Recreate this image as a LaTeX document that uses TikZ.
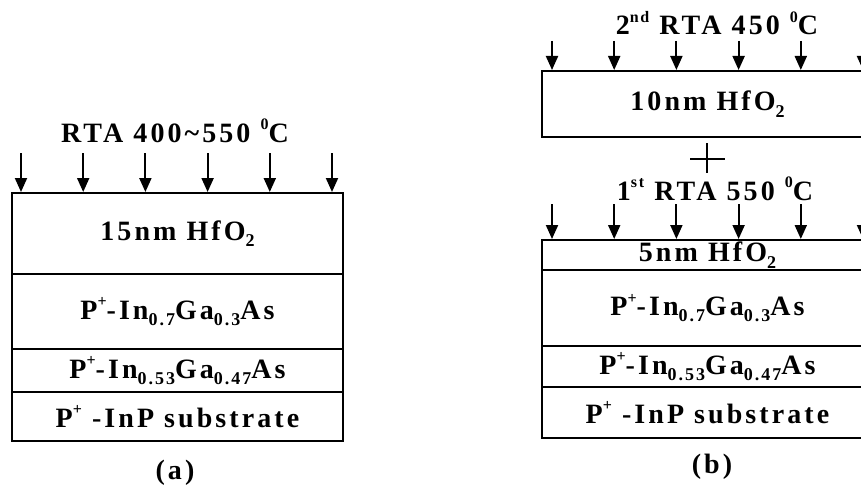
\documentclass[tikz,border=0pt]{standalone}
\usepackage{fontspec}
\setmainfont{Liberation Serif}[LetterSpace=11]
\usetikzlibrary{arrows.meta}
\newcommand{\lsub}[1]{\raisebox{-0.22em}{\fontsize{18}{18}\selectfont #1}}
\newcommand{\lsup}[1]{\raisebox{0.45em}{\fontsize{16}{16}\selectfont #1}}

\tikzset{
  layer/.style={draw, line width=2.4pt, minimum width=331pt, inner sep=0pt,
    anchor=north, font=\bfseries\fontsize{28}{28}\selectfont},
  heat/.style={-{Triangle[width=12pt,length=14pt]}, line width=2pt},
  lab/.style={font=\bfseries\fontsize{28}{28}\selectfont},
}

\begin{document}
\begin{tikzpicture}[x=1pt, y=-1pt]
    \useasboundingbox (0,0) rectangle (861,487);
    \clip (0,0) rectangle (861,487);

    % (a) 单次退火
    \node[layer, minimum height=81pt] (a1) at (177.5,192) {15nm HfO\lsub{2}};
    \node[layer, minimum height=75pt] (a2) at (177.5,273) {P\lsup{+}-In\lsub{0.7}Ga\lsub{0.3}As};
    \node[layer, minimum height=43pt] (a3) at (177.5,348) {P\lsup{+}-In\lsub{0.53}Ga\lsub{0.47}As};
    \node[layer, minimum height=49pt] (a4) at (177.5,391) {P\lsup{+} -InP substrate};
    \node[lab] (rtaA) at (175,131) {RTA 400\textasciitilde550 \lsup{0}C};
    \foreach \i in {0,...,5} {
        \coordinate (ta\i) at (21+\i*62.2,153);
        \draw[heat] (ta\i) -- (ta\i |- a1.north);
    }
    \node[lab] (capA) at (175,473) {(a)};

    % (b) 两步退火
    \node[layer, minimum height=66pt] (b1) at (707.5,70) {10nm HfO\lsub{2}};
    \node[layer, minimum height=30pt] (b2) at (707.5,239) {5nm HfO\lsub{2}};
    \node[layer, minimum height=76pt] (b3) at (707.5,269) {P\lsup{+}-In\lsub{0.7}Ga\lsub{0.3}As};
    \node[layer, minimum height=41pt] (b4) at (707.5,345) {P\lsup{+}-In\lsub{0.53}Ga\lsub{0.47}As};
    \node[layer, minimum height=51pt] (b5) at (707.5,386) {P\lsup{+} -InP substrate};
    \node[lab] (rtaB2) at (717,23) {2\lsup{nd} RTA 450 \lsup{0}C};
    \node[lab] (rtaB1) at (715,189) {1\lsup{st} RTA 550 \lsup{0}C};
    \foreach \i in {0,...,5} {
        \coordinate (tb\i) at (552+\i*62.2,41);
        \draw[heat] (tb\i) -- (tb\i |- b1.north);
        \coordinate (tc\i) at (552+\i*62.2,204);
        \draw[heat] (tc\i) -- (tc\i |- b2.north);
    }
    \draw[line width=1.6pt] (690,159) -- (725,159) (707,143) -- (707,173);
    \node[lab] (capB) at (712,467) {(b)};
\end{tikzpicture}
\end{document}
